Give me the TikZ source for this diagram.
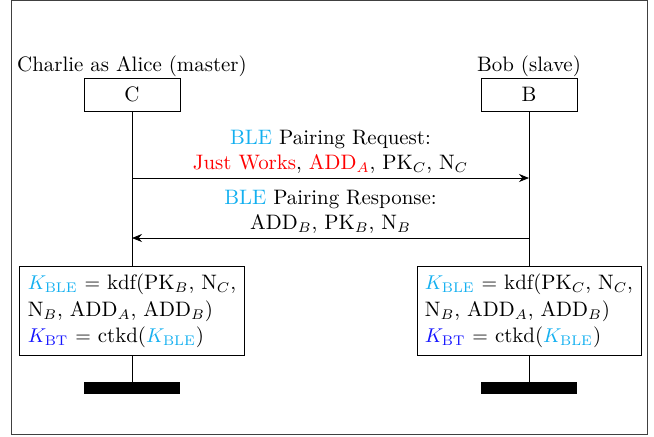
\documentclass[tikz,border=0pt]{standalone}
\usetikzlibrary{arrows.meta}
\definecolor{blecol}{RGB}{20,176,240}
\definecolor{btcol}{RGB}{20,20,255}
\definecolor{jwred}{RGB}{255,0,0}
\begin{document}
\begin{tikzpicture}[x=0.5pt,y=-0.5pt,
  every node/.style={font=\fontsize{10.45pt}{12.5pt}\selectfont},
  entity/.style={draw, minimum width=48pt, minimum height=16.5pt, inner sep=0pt},
  keybox/.style={draw, align=left, inner xsep=4pt, inner ysep=4pt, font=\fontsize{10.45pt}{13.2pt}\selectfont},
  endbar/.style={fill=black, minimum width=48pt, minimum height=6pt, inner sep=0pt},
  msg/.style={-{Stealth[length=5pt,width=4pt]}},
  msgtext/.style={align=center, inner sep=2pt}]
\useasboundingbox (0,0) rectangle (654,436);
\draw[black!75] (11,0) rectangle (647,434);
% entities
\node[entity] (C) at (132,94.5) {C};
\node[entity] (B) at (529,94.5) {B};
\node[anchor=base] (Clabel) at (132,71) {Charlie as Alice (master)};
\node[anchor=base] (Blabel) at (529,71) {Bob (slave)};
% key boxes
\node[keybox] (KC) at (132,311) {\textcolor{blecol}{$K_{\mathrm{BLE}}$} $=$ kdf(PK$_B$, N$_C$,\\N$_B$, ADD$_A$, ADD$_B$)\\\textcolor{btcol}{$K_{\mathrm{BT}}$} $=$ ctkd(\textcolor{blecol}{$K_{\mathrm{BLE}}$})};
\node[keybox] (KB) at (529,311) {\textcolor{blecol}{$K_{\mathrm{BLE}}$} $=$ kdf(PK$_C$, N$_C$,\\N$_B$, ADD$_A$, ADD$_B$)\\\textcolor{btcol}{$K_{\mathrm{BT}}$} $=$ ctkd(\textcolor{blecol}{$K_{\mathrm{BLE}}$})};
% end bars
\node[endbar] (CE) at (132,388) {};
\node[endbar] (BE) at (529,388) {};
% lifelines
\draw (C) -- (KC);
\draw (KC) -- (CE);
\draw (B) -- (KB);
\draw (KB) -- (BE);
% messages
\coordinate (q1) at (132,178);
\coordinate (q2) at (529,178);
\coordinate (p1) at (529,238);
\coordinate (p2) at (132,238);
\draw[msg] (q1) -- node[above, msgtext] {\textcolor{blecol}{BLE} Pairing Request:\\\textcolor{jwred}{Just Works}, \textcolor{jwred}{ADD$_A$}, PK$_C$, N$_C$} (q2);
\draw[msg] (p1) -- node[above, msgtext] {\textcolor{blecol}{BLE} Pairing Response:\\ADD$_B$, PK$_B$, N$_B$} (p2);
\end{tikzpicture}
\end{document}
